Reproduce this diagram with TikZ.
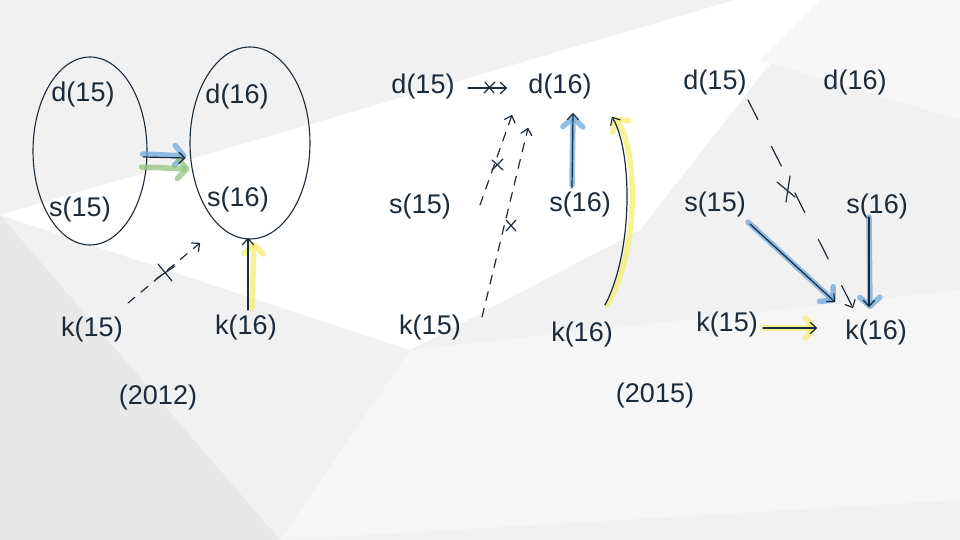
\documentclass[tikz,border=0pt]{standalone}
\usepackage{fontspec}
\setmainfont{Liberation Sans}
\usetikzlibrary{arrows.meta,calc,shapes.geometric}
\definecolor{ink}{HTML}{1C2B3A}
\definecolor{hblue}{HTML}{6FA8DC}
\definecolor{hyellow}{HTML}{F3EF72}
\definecolor{hgreen}{HTML}{93C47D}
\definecolor{bgA}{HTML}{F1F1F1}
\definecolor{bgB}{HTML}{E8E8E8}
\definecolor{bgC}{HTML}{F6F6F6}
\tikzset{
  lbl/.style={text=ink, font=\fontsize{27}{31}\selectfont, inner sep=1pt},
  ink line/.style={draw=ink, line width=1.2pt, line cap=round},
  ink arrow/.style={ink line, -{Straight Barb[length=6pt,width=11pt,round]}},
  dash arrow/.style={ink arrow, dash pattern=on 9pt off 8pt},
  hl/.style={line width=5.5pt, line cap=round, opacity=0.75, -{Straight Barb[length=9pt,width=20pt,round]}},
  blob/.style={draw=ink, line width=1.1pt, ellipse},
}
\begin{document}
\begin{tikzpicture}[x=1pt,y=-1pt]
\useasboundingbox (0,0) rectangle (960,540);
% background
\fill[bgA] (0,0) rectangle (960,540);
\fill[white] (0,215) -- (735,0) -- (820,0) -- (640,230) -- (410,350) -- cycle;
\fill[bgB] (0,215) -- (280,540) -- (0,540) -- cycle;
\fill[bgC] (410,350) -- (960,290) -- (960,500) -- (280,540) -- cycle;
\fill[white!97!black] (820,0) -- (960,0) -- (960,120) -- (760,60) -- cycle;

% ---------- left panel (2012) ----------
\node[blob, minimum width=114, minimum height=188] (eA) at (90,151) {};
\node[blob, minimum width=120, minimum height=192] (eB) at (250,143) {};
\node[lbl] (dA) at (83,95) {d(15)};
\node[lbl] (sA) at (80,210) {s(15)};
\node[lbl] (dB) at (237,97) {d(16)};
\node[lbl] (sB) at (238,200) {s(16)};
\node[lbl] (kA) at (92,330) {k(15)};
\node[lbl] (kB) at (246,328) {k(16)};
\node[lbl] (yA) at (158,398) {(2012)};

\draw[hl, draw=hblue] ($(eA.east)+(-5,3)$) -- ($(eB.west)+(-3,13)$);
\draw[hl, draw=hgreen] ($(eA.east)+(-6,16)$) -- ($(eB.west)+(0,26)$);
\draw[ink arrow] ($(eA.east)+(-4,6)$) -- ($(eB.west)+(-4,15)$);

\draw[dash arrow] ($(kA)+(36,-27)$) -- ($(sB)+(-38,43)$);
\draw[ink line] (158,264) -- (172,281) (156,279) -- (175,266);

\draw[hl, draw=hyellow] ($(kB)+(6,-20)$) -- ($(sB)+(16,42)$);
\draw[ink arrow] ($(kB)+(2,-18)$) -- ($(sB)+(10,38)$);

% ---------- middle panel (2015) ----------
\node[lbl] (dC) at (423,87) {d(15)};
\node[lbl] (dD) at (560,87) {d(16)};
\node[lbl] (sC) at (420,207) {s(15)};
\node[lbl] (sD) at (580,205) {s(16)};
\node[lbl] (kC) at (430,328) {k(15)};
\node[lbl] (kD) at (582,335) {k(16)};
\node[lbl] (yB) at (655,396) {(2015)};

\draw[ink arrow] ($(dC)+(45,1)$) -- ($(dD)+(-53,1)$);
\draw[ink line] (485,82) -- (494,93) (484,93) -- (495,82);

\draw[dash arrow] ($(sC)+(60,-2)$) -- ($(dD)+(-48,28)$);
\draw[ink line] (492,160) -- (503,170) (492,170) -- (503,159);
\draw[dash arrow] ($(kC)+(52,-11)$) -- ($(dD)+(-32,41)$);
\draw[ink line] (506,220) -- (516,231) (506,231) -- (516,220);

\draw[hl, draw=hblue] ($(sD)+(-8,-20)$) -- ($(dD)+(13,28)$);
\draw[ink arrow] ($(sD)+(-8,-17)$) -- ($(dD)+(13,26)$);

\draw[hl, draw=hyellow] ($(kD)+(25,-30)$) .. controls (640,250) and (638,150) .. ($(dD)+(54,30)$);
\draw[ink arrow] ($(kD)+(23,-30)$) .. controls (634,250) and (632,150) .. ($(dD)+(52,30)$);

% ---------- right panel (2015) ----------
\node[lbl] (dE) at (715,83) {d(15)};
\node[lbl] (dF) at (855,83) {d(16)};
\node[lbl] (sE) at (715,205) {s(15)};
\node[lbl] (sF) at (877,207) {s(16)};
\node[lbl] (kE) at (727,325) {k(15)};
\node[lbl] (kF) at (876,333) {k(16)};

\draw[ink arrow, dash pattern=on 22pt off 30pt] ($(dE)+(33,17)$) -- ($(kF)+(-23,-25)$);
\draw[ink line] (777,182) -- (795,197) (790,176) -- (786,202);

\draw[hl, draw=hblue] ($(sE)+(33,17)$) -- ($(kF)+(-41,-31)$);
\draw[ink arrow] ($(sE)+(35,19)$) -- ($(kF)+(-41,-31)$);
\draw[hl, draw=hblue] ($(sF)+(-8,10)$) -- ($(kF)+(-6,-24)$);
\draw[ink arrow] ($(sF)+(-8,10)$) -- ($(kF)+(-7,-26)$);

\draw[hl, draw=hyellow] ($(kE)+(36,3)$) -- ($(kF)+(-59,-5)$);
\draw[ink arrow] ($(kE)+(36,3)$) -- ($(kF)+(-59,-5)$);
\end{tikzpicture}
\end{document}
